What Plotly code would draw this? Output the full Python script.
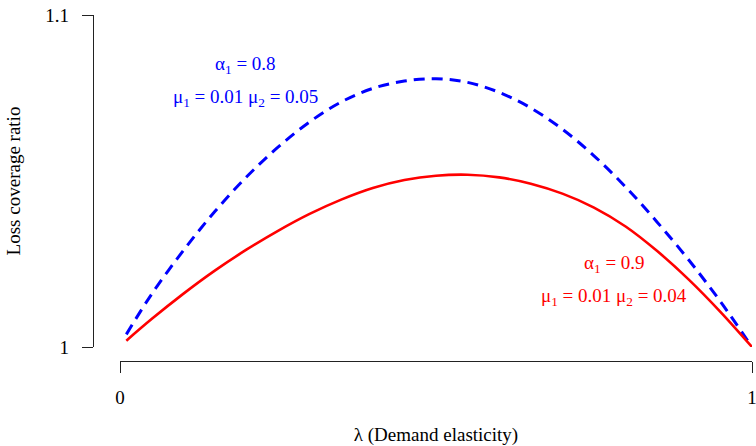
import plotly.graph_objects as go

# lambda (demand elasticity)
lam = [0.01, 0.05, 0.10, 0.15, 0.20, 0.25, 0.30, 0.35, 0.40, 0.45, 0.50,
       0.55, 0.60, 0.65, 0.70, 0.75, 0.80, 0.85, 0.90, 0.95, 1.00]
# alpha1 = 0.8, mu1 = 0.01, mu2 = 0.05 (blue, dashed)
blue = [1.0038, 1.0159, 1.0290, 1.0408, 1.0512, 1.0602, 1.0678, 1.0738, 1.0779, 1.0801, 1.0808,
        1.0797, 1.0767, 1.0720, 1.0656, 1.0576, 1.0482, 1.0376, 1.0262, 1.0137, 1.0000]
# alpha1 = 0.9, mu1 = 0.01, mu2 = 0.04 (red, solid)
red = [1.0019, 1.0084, 1.0160, 1.0230, 1.0293, 1.0350, 1.0401, 1.0444, 1.0479, 1.0503, 1.0516,
       1.0519, 1.0511, 1.0492, 1.0462, 1.0420, 1.0363, 1.0289, 1.0203, 1.0106, 1.0000]

x_ticks = [0, 1]
x_ticktext = ["0", "1"]
y_ticks = [1.0, 1.1]
y_ticktext = ["1", "1.1"]

FONT = "Liberation Serif"

fig = go.Figure()
fig.add_trace(go.Scatter(x=lam, y=blue, mode="lines", cliponaxis=False,
                         line=dict(color="#0000FF", width=3, dash="11px,7px", shape="spline")))
fig.add_trace(go.Scatter(x=lam, y=red, mode="lines", cliponaxis=False,
                         line=dict(color="#FF0000", width=2.6, shape="spline")))

W, H = 756, 446
L, R, T, B = 93, 4, 15, 446 - 361
pw = W - L - R
ph = H - T - B

fig.update_layout(
    width=W, height=H,
    margin=dict(l=L, r=R, t=T, b=B, autoexpand=False),
    plot_bgcolor="white", paper_bgcolor="white",
    showlegend=False,
    font=dict(family=FONT, size=19, color="black"),
    xaxis=dict(domain=[(120 - L) / pw, 1], range=[0, 1], anchor="free", position=0,
               automargin=False, ticklabeloverflow="allow",
               showline=True, linecolor="#222", linewidth=1.3,
               ticks="outside", ticklen=11, tickwidth=1.3, tickcolor="#222",
               tickvals=x_ticks, ticktext=x_ticktext, ticklabelstandoff=8,
               tickfont=dict(family=FONT, size=19, color="black"),
               showgrid=False, zeroline=False,
               title=dict(text="λ (Demand elasticity)", standoff=28,
                          font=dict(family=FONT, size=19, color="black"))),
    yaxis=dict(domain=[14 / ph, 1], range=[1.0, 1.1], anchor="free", position=0,
               automargin=False, ticklabeloverflow="allow",
               showline=True, linecolor="#222", linewidth=1.3,
               ticks="outside", ticklen=11, tickwidth=1.3, tickcolor="#222",
               tickvals=y_ticks, ticktext=y_ticktext, ticklabelstandoff=9,
               tickfont=dict(family=FONT, size=19, color="black"),
               showgrid=False, zeroline=False,
               title=dict(text="Loss coverage ratio", standoff=18,
                          font=dict(family=FONT, size=19, color="black"))),
)

ann = [
    (0.198, 1.0849, "α<sub>1</sub> = 0.8", "#0000FF"),
    (0.198, 1.0750, "μ<sub>1</sub> = 0.01 μ<sub>2</sub> = 0.05", "#0000FF"),
    (0.782, 1.0250, "α<sub>1</sub> = 0.9", "#FF0000"),
    (0.782, 1.0151, "μ<sub>1</sub> = 0.01 μ<sub>2</sub> = 0.04", "#FF0000"),
]
for x, y, t, c in ann:
    fig.add_annotation(x=x, y=y, xref="x", yref="y", text=t, showarrow=False,
                       font=dict(family=FONT, size=19, color=c), xanchor="center", yanchor="middle")

# remove the default page margin so the 756x446 figure fills the window exactly
fig.write_html("out.html",
               config={"displayModeBar": False},
               post_script="document.body.style.margin='0';"
                           "document.documentElement.style.overflow='hidden';"
                           "document.body.style.overflow='hidden';")
